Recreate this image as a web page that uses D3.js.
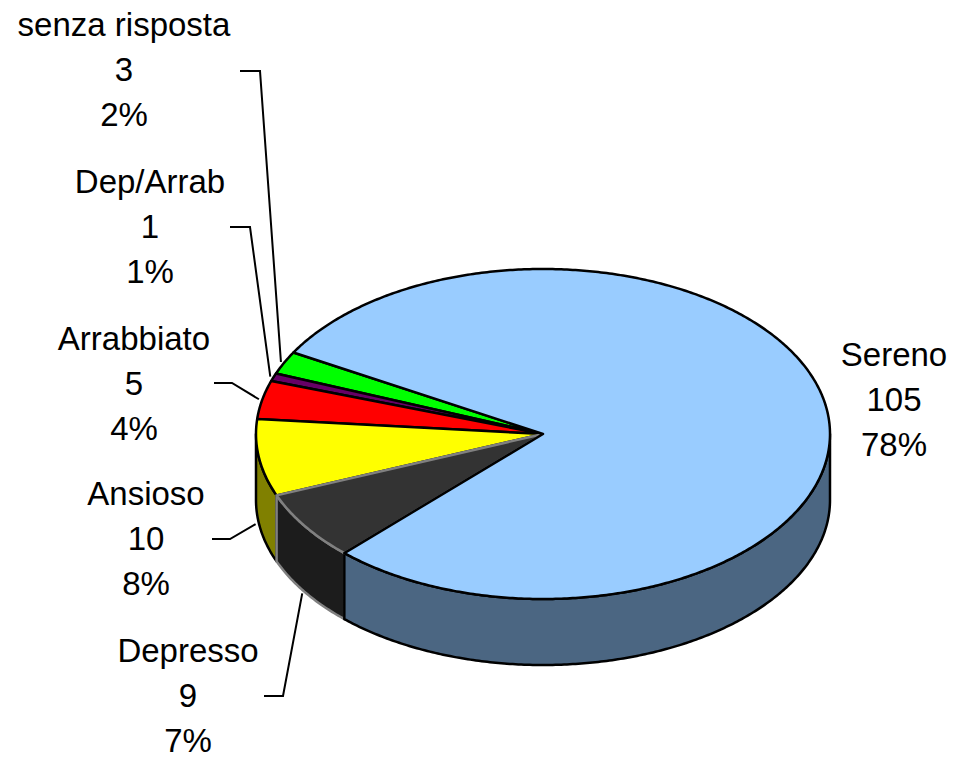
<!DOCTYPE html>
<html>
<head>
<meta charset="utf-8">
<script src="https://cdn.jsdelivr.net/npm/d3@7"></script>
<style>
  html, body { margin: 0; padding: 0; background: #ffffff; }
  svg { display: block; }
  text { font-family: "Liberation Sans", Arial, sans-serif; }
</style>
</head>
<body>
<div id="chart"></div>
<script>
// ---- data ----
const categories = ["Sereno", "Depresso", "Ansioso", "Arrabbiato", "Dep/Arrab", "senza risposta"];
const values = [105, 9, 10, 5, 1, 3];
const pctLabels = ["78%", "7%", "8%", "4%", "1%", "2%"];
const topColors = ["#99CCFF", "#333333", "#FFFF00", "#FF0000", "#660066", "#00FF00"];
const sideColors = ["#4B6682", "#1C1C1C", "#808000", "#800000", "#330033", "#008000"];
const strokeColors = ["#000000", "#808080", "#000000", "#000000", "#000000", "#000000"];

// ---- layout ----
const W = 954, H = 759;
const geo = { cx: 543, cy: 434, rx: 287, ry: 165, depth: 66, startDeg: 299.6 };
const labelLayout = [
  { x: 894, y: 366, leader: null },
  { x: 188, y: 662, leader: [[264, 696], [283, 696]] },
  { x: 146, y: 505, leader: [[212, 539], [230, 539]] },
  { x: 134, y: 350, leader: [[214, 383], [232, 383]] },
  { x: 150, y: 193, leader: [[230, 227], [250, 227]] },
  { x: 124, y: 36,  leader: [[240, 71], [260, 71]] }
];
const lineGap = 45;
const fontSize = 33;

const svg = d3.select("#chart").append("svg").attr("width", W).attr("height", H);

const start = geo.startDeg * Math.PI / 180;
const pie = d3.pie().sort(null).startAngle(start).endAngle(start + 2 * Math.PI);
const arcs = pie(values).map((d, i) => ({ ...d, i }));

const px = (a, s = 1) => geo.cx + geo.rx * s * Math.sin(a);
const py = (a, s = 1) => geo.cy - geo.ry * s * Math.cos(a);

function arcPoints(a0, a1, dy) {
  const n = Math.max(2, Math.ceil(Math.abs(a1 - a0) / 0.01));
  const pts = [];
  for (let k = 0; k <= n; k++) {
    const a = a0 + (a1 - a0) * k / n;
    pts.push([px(a), py(a) + dy]);
  }
  return pts;
}

const line = d3.line();

// side walls (front half: angles in [PI/2, 3PI/2] mod 2PI)
function frontRanges(a0, a1) {
  const out = [];
  for (let k = -1; k <= 2; k++) {
    const f0 = Math.PI / 2 + k * 2 * Math.PI, f1 = 3 * Math.PI / 2 + k * 2 * Math.PI;
    const s = Math.max(a0, f0), e = Math.min(a1, f1);
    if (e > s) out.push([s, e]);
  }
  return out;
}

const order = arcs.slice().reverse();
const gSides = svg.append("g");
order.forEach(d => {
  frontRanges(d.startAngle, d.endAngle).forEach(([s, e]) => {
    const top = arcPoints(s, e, 0);
    const bot = arcPoints(e, s, geo.depth);
    gSides.append("path")
      .attr("d", line(top.concat(bot)) + "Z")
      .attr("fill", sideColors[d.i])
      .attr("stroke", strokeColors[d.i])
      .attr("stroke-width", 2.5)
      .attr("stroke-linejoin", "round");
  });
});

const gTops = svg.append("g");
order.forEach(d => {
  const pts = [[geo.cx, geo.cy]].concat(arcPoints(d.startAngle, d.endAngle, 0));
  gTops.append("path")
    .attr("d", line(pts) + "Z")
    .attr("fill", topColors[d.i])
    .attr("stroke", strokeColors[d.i])
    .attr("stroke-width", 2.5)
    .attr("stroke-linejoin", "round");
});

// labels
const gLab = svg.append("g");
arcs.forEach(d => {
  const L = labelLayout[d.i];
  const t = gLab.append("text")
    .attr("text-anchor", "middle")
    .attr("font-size", fontSize)
    .attr("fill", "#000");
  [categories[d.i], String(values[d.i]), pctLabels[d.i]].forEach((s, j) => {
    t.append("tspan").attr("x", L.x).attr("y", L.y + j * lineGap).text(s);
  });
  if (L.leader) {
    const mid = (d.startAngle + d.endAngle) / 2;
    const front = Math.cos(mid) < 0;
    const ax = px(mid, 1.012);
    const ay = py(mid, 1.012) + (front ? geo.depth : 0);
    gLab.append("path")
      .attr("d", line(L.leader.concat([[ax, ay]])))
      .attr("fill", "none")
      .attr("stroke", "#000")
      .attr("stroke-width", 2);
  }
});
</script>
</body>
</html>
